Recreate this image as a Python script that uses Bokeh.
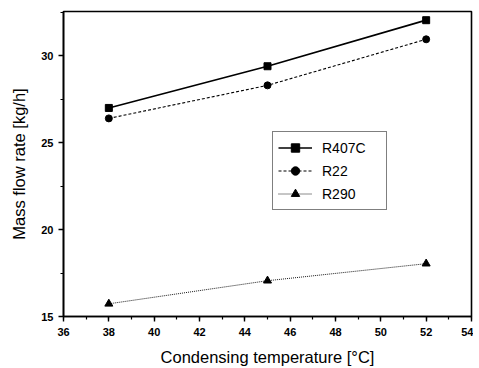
from bokeh.plotting import figure
from bokeh.models import Range1d, SingleIntervalTicker, Legend, LegendItem
from bokeh.embed import file_html
from bokeh.resources import INLINE

temps = [38, 45, 52]
r407c = [27.0, 29.4, 32.05]
r22 = [26.4, 28.3, 30.95]
r290 = [15.73, 17.06, 18.04]
x_ticks = [36, 38, 40, 42, 44, 46, 48, 50, 52, 54]
y_ticks = [15, 20, 25, 30]

FONT = "Liberation Sans"

p = figure(width=473, height=368, output_backend="svg", toolbar_location=None,
           x_range=Range1d(36, 54), y_range=Range1d(15, 32.55),
           min_border_left=63, min_border_right=2, min_border_top=11, min_border_bottom=50)
p.xgrid.visible = False
p.ygrid.visible = False
p.outline_line_color = "black"
p.outline_line_width = 1.6
p.background_fill_color = "white"

l1 = p.line(temps, r407c, line_color="black", line_width=1.7)
s1 = p.scatter(temps, r407c, marker="square", size=7, color="black")
l2 = p.line(temps, r22, line_color="black", line_width=1.1, line_dash="3 2")
s2 = p.scatter(temps, r22, marker="circle", size=7, color="black")
l3 = p.line(temps, r290, line_color="black", line_width=0.9, line_dash="1 1")
s3 = p.scatter(temps, r290, marker="triangle", size=8, color="black")

p.xaxis.ticker = SingleIntervalTicker(interval=2, num_minor_ticks=2,
                                      desired_num_ticks=len(x_ticks))
p.yaxis.ticker = SingleIntervalTicker(interval=5, num_minor_ticks=2,
                                      desired_num_ticks=len(y_ticks))

for ax in (p.xaxis[0], p.yaxis[0]):
    ax.axis_line_color = "black"
    ax.axis_line_width = 1.6
    ax.major_tick_line_color = "black"
    ax.major_tick_line_width = 1.4
    ax.minor_tick_line_color = "black"
    ax.minor_tick_line_width = 1.2
    ax.major_tick_out = 5
    ax.major_tick_in = 0
    ax.minor_tick_out = 3
    ax.minor_tick_in = 0
    ax.major_label_text_font = FONT
    ax.major_label_text_font_style = "bold"
    ax.major_label_text_font_size = "11px"
    ax.major_label_text_color = "black"
    ax.axis_label_text_font = FONT
    ax.axis_label_text_font_style = "normal"
    ax.axis_label_text_font_size = "16.5px"
    ax.axis_label_text_color = "black"

p.xaxis.axis_label = "Condensing temperature [°C]"
p.yaxis.axis_label = "Mass flow rate [kg/h]"
p.xaxis.major_label_standoff = 6
p.xaxis.axis_label_standoff = 9
p.yaxis.major_label_standoff = 5
p.yaxis.axis_label_standoff = 10

legend = Legend(items=[
    LegendItem(label="R407C", renderers=[l1, s1]),
    LegendItem(label="R22", renderers=[l2, s2]),
    LegendItem(label="R290", renderers=[l3, s3]),
], location=(209, 106))
legend.border_line_color = "black"
legend.border_line_width = 1.5
legend.background_fill_color = "white"
legend.background_fill_alpha = 1
legend.padding = 5
legend.margin = 0
legend.spacing = 2
legend.glyph_width = 34
legend.glyph_height = 21
legend.label_height = 21
legend.label_width = 59
legend.label_standoff = 10
legend.label_text_font = FONT
legend.label_text_font_size = "14px"
legend.label_text_color = "black"
p.add_layout(legend, "center")

open("out.html", "w").write(file_html(p, INLINE))
